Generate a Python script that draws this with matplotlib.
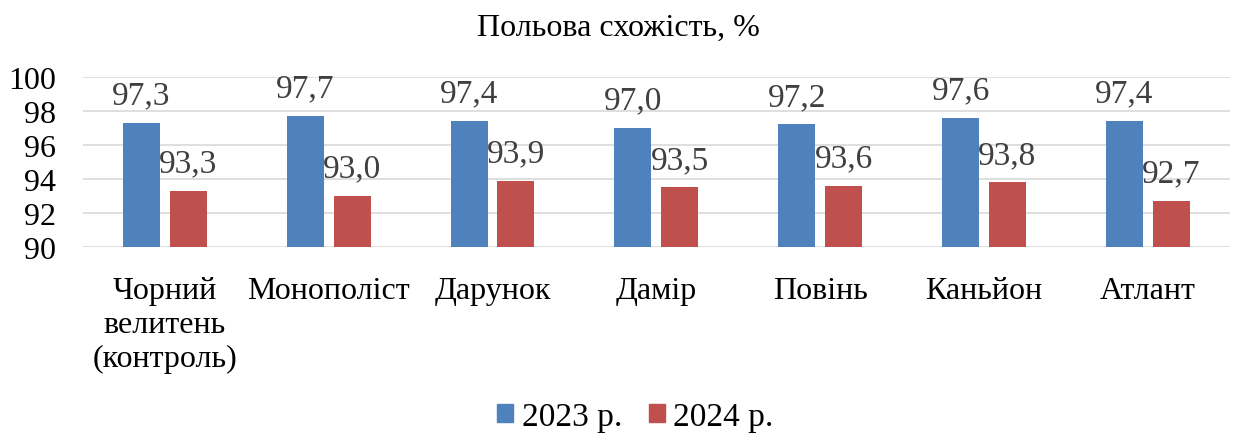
import numpy as np
import matplotlib
matplotlib.use("Agg")
import matplotlib.pyplot as plt
from matplotlib.patches import Patch

plt.rcParams["font.family"] = ["Liberation Serif", "DejaVu Serif"]

# Data
varieties = ["Чорний\nвелитень\n(контроль)", "Монополіст", "Дарунок", "Дамір", "Повінь", "Каньйон", "Атлант"]
y2023 = [97.3, 97.7, 97.4, 97.0, 97.2, 97.6, 97.4]
y2024 = [93.3, 93.0, 93.9, 93.5, 93.6, 93.8, 92.7]
series_labels = ["2023 р.", "2024 р."]

blue = "#4f81bd"
red = "#c0504d"

fig = plt.figure(figsize=(12.36, 4.35), dpi=100)
ax = fig.add_axes([0.067, 0.430, 0.928, 0.391])

x = np.arange(len(varieties))
w = 0.226
off = 0.143
ax.bar(x - off, np.array(y2023) - 90, w, bottom=90, color=blue, zorder=3)
ax.bar(x + off, np.array(y2024) - 90, w, bottom=90, color=red, zorder=3)

for xs, vals in ((x - off, y2023), (x + off, y2024)):
    for xi, v in zip(xs, vals):
        ax.annotate(f"{v:.1f}".replace(".", ","), (xi, v), xytext=(0, 14),
                    textcoords="offset points", ha="center", va="baseline",
                    fontsize=24, color="#404040")

ax.set_xlim(-0.5, len(varieties) - 0.5)
ax.set_ylim(90, 100)
ax.set_yticks(range(90, 101, 2))
ax.yaxis.grid(True, color="#d9d9d9", linewidth=1.2, zorder=0)
ax.set_axisbelow(True)
for s in ax.spines.values():
    s.set_visible(False)
ax.tick_params(axis="y", length=0, pad=19, labelsize=23)
ax.tick_params(axis="x", length=0, pad=21, labelsize=23)
ax.set_xticks(x)
ax.set_xticklabels(varieties, linespacing=1.22, va="top")

fig.text(0.5, 0.935, "Польова схожість, %", ha="center", va="center", fontsize=23)

handles = [Patch(color=blue), Patch(color=red)]
fig.legend(handles, series_labels, loc="center", bbox_to_anchor=(0.514, 0.04),
           ncol=2, frameon=False, fontsize=24, handlelength=0.48, handleheight=0.48,
           handletextpad=0.25, columnspacing=0.8, borderaxespad=0, borderpad=0.1)

fig.savefig("out.png", dpi=100)
